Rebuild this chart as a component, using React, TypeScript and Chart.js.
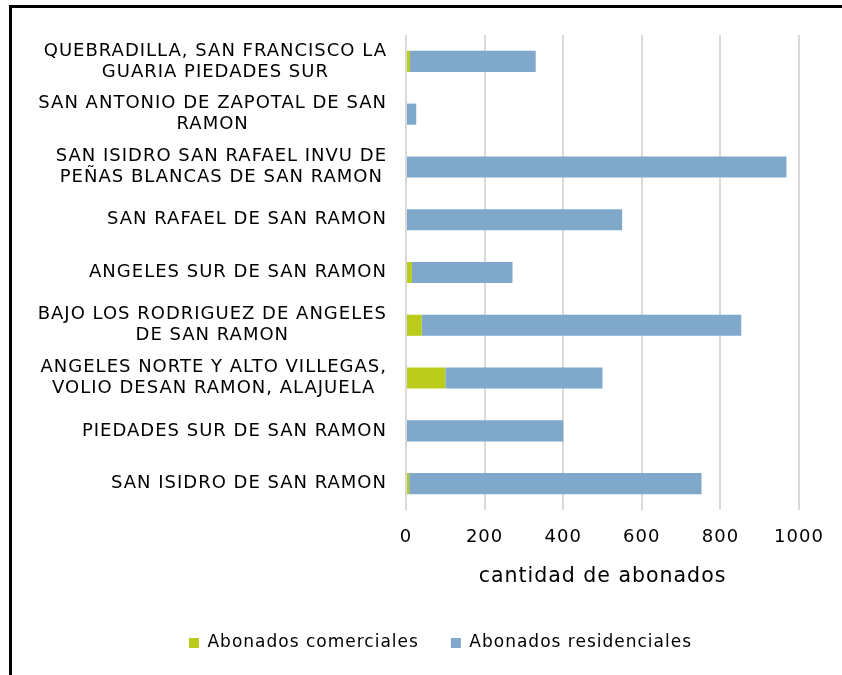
import React, { useEffect, useRef } from "react";
import { Chart, registerables } from "chart.js";

Chart.register(...registerables);

const categories: string[][] = [
  ["QUEBRADILLA, SAN FRANCISCO LA", "GUARIA PIEDADES SUR"],
  ["SAN ANTONIO DE ZAPOTAL DE SAN", "RAMON"],
  ["SAN ISIDRO SAN RAFAEL INVU DE", "PEÑAS BLANCAS DE SAN RAMON"],
  ["SAN RAFAEL DE SAN RAMON"],
  ["ANGELES SUR DE SAN RAMON"],
  ["BAJO LOS RODRIGUEZ DE ANGELES", "DE SAN RAMON"],
  ["ANGELES NORTE Y ALTO VILLEGAS,", "VOLIO DESAN RAMON, ALAJUELA"],
  ["PIEDADES SUR DE SAN RAMON"],
  ["SAN ISIDRO DE SAN RAMON"],
];

const comerciales: number[] = [10, 0, 0, 0, 15, 40, 100, 0, 8];
const residenciales: number[] = [320, 26, 968, 550, 256, 813, 400, 400, 744];

const xMin = 0;
const xMax = 1000;
const xStep = 200;

const seriesNames = ["Abonados comerciales", "Abonados residenciales"];
const axisTitle = "cantidad de abonados";

const FONT = "'DejaVu Sans', sans-serif";
const LABEL_SIZE = 18;
const LABEL_LH = 21;
const SPACING = "1px";

const spacingPlugin = {
  id: "spacing",
  beforeUpdate(chart: any) {
    (chart.ctx as any).letterSpacing = SPACING;
  },
  beforeLayout(chart: any) {
    (chart.ctx as any).letterSpacing = SPACING;
  },
  beforeDraw(chart: any) {
    (chart.ctx as any).letterSpacing = SPACING;
  },
};

const centeredLabels = {
  id: "centeredLabels",
  afterDraw(chart: any) {
    const scale = chart.scales.y;
    const ctx = chart.ctx as CanvasRenderingContext2D;
    ctx.save();
    (ctx as any).letterSpacing = SPACING;
    ctx.font = `${LABEL_SIZE}px ${FONT}`;
    ctx.fillStyle = "#000";
    ctx.textAlign = "center";
    ctx.textBaseline = "middle";
    const right = chart.chartArea.left - 19;
    categories.forEach((lines, i) => {
      const y = scale.getPixelForTick(i);
      const w = Math.max(...lines.map((l) => ctx.measureText(l).width));
      const cx = right - w / 2;
      lines.forEach((l, j) => {
        ctx.fillText(l, cx, y + (j - (lines.length - 1) / 2) * LABEL_LH);
      });
    });
    ctx.restore();
  },
};

export default function App() {
  const ref = useRef<HTMLCanvasElement | null>(null);

  useEffect(() => {
    if (!ref.current) return;
    const chart = new Chart(ref.current, {
      type: "bar",
      data: {
        labels: categories,
        datasets: [
          {
            label: seriesNames[0],
            data: comerciales,
            backgroundColor: "#BBCB1C",
            borderWidth: 0,
            categoryPercentage: 0.8,
            barPercentage: 0.5,
          },
          {
            label: seriesNames[1],
            data: residenciales,
            backgroundColor: "#7FA8CB",
            borderWidth: 0,
            categoryPercentage: 0.8,
            barPercentage: 0.5,
          },
        ],
      },
      plugins: [spacingPlugin, centeredLabels],
      options: {
        indexAxis: "y",
        animation: false,
        responsive: false,
        maintainAspectRatio: false,
        layout: { padding: { top: 35, right: 43, bottom: 13.5, left: 82 } },
        scales: {
          x: {
            stacked: true,
            min: xMin,
            max: xMax,
            ticks: {
              stepSize: xStep,
              color: "#000",
              padding: 17,
              font: { family: FONT, size: 18 },
              callback: (v: any) => String(v),
            },
            grid: { color: "#D9D9D9", lineWidth: 2, drawTicks: false },
            border: { display: false },
            title: {
              display: true,
              text: axisTitle,
              color: "#000",
              font: { family: FONT, size: 20.5 },
              padding: { top: 0, bottom: 13.2 },
            },
            afterFit(scale: any) {
              scale.height = 92.5;
            },
          },
          y: {
            stacked: true,
            ticks: { color: "rgba(0,0,0,0)", font: { family: FONT, size: LABEL_SIZE } },
            grid: { display: false },
            border: { display: false },
            afterFit(scale: any) {
              scale.width = 324;
            },
          },
        },
        plugins: {
          legend: {
            position: "bottom",
            labels: {
              boxWidth: 10,
              boxHeight: 10,
              padding: 32,
              color: "#000",
              font: { family: FONT, size: 17 },
            },
          },
          tooltip: { enabled: false },
        },
      },
    });
    return () => chart.destroy();
  }, []);

  return (
    <div style={{ position: "absolute", left: 0, top: 0, width: 842, height: 675, background: "#fff", overflow: "hidden" }}>
      <canvas ref={ref} width={842} height={675} style={{ position: "absolute", left: 0, top: 0, width: 842, height: 675 }} />
      <div
        style={{
          position: "absolute",
          left: 9,
          top: 5,
          width: 833,
          height: 670,
          boxSizing: "border-box",
          borderLeft: "3px solid #000",
          borderTop: "3px solid #000",
          pointerEvents: "none",
        }}
      />
    </div>
  );
}
